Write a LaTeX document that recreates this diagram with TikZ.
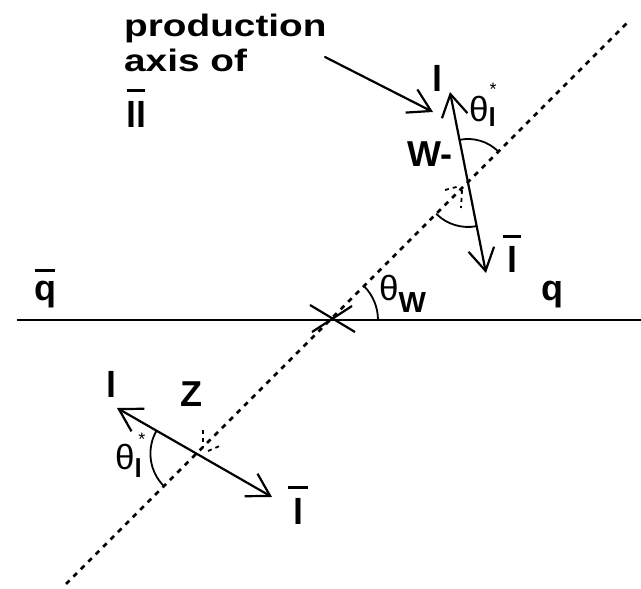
\documentclass[tikz,border=0pt]{standalone}
\usepackage{fontspec}
\setmainfont{Liberation Sans}
\newfontfamily\widefont{Liberation Sans}[FakeStretch=1.25]
\usetikzlibrary{arrows.meta}
\newcommand\barover[3]{\leavevmode\ooalign{\hfil#1\hfil\cr\hfil\rule[#3]{#2}{0.09em}\hfil\cr}}
\tikzset{
  lab/.style={font=\fontsize{36}{36}\selectfont\bfseries, inner sep=0pt},
  widelab/.style={font=\widefont\fontsize{31}{32}\selectfont\bfseries, inner sep=0pt},
  thlab/.style={font=\fontsize{35}{35}\selectfont, inner sep=0pt},
  starlab/.style={font=\fontsize{18}{18}\selectfont, inner sep=0pt},
  arr/.style={line width=2.2pt, line cap=round, {Straight Barb[length=22pt,width=26pt]}-{Straight Barb[length=22pt,width=26pt]}},
  onearr/.style={line width=2.2pt, line cap=round, -{Straight Barb[length=22pt,width=26pt]}},
  axisln/.style={line width=2.6pt, dash pattern=on 5pt off 5.5pt},
  ang/.style={line width=1.8pt},
  smalldash/.style={line width=1.8pt, dash pattern=on 4pt off 4pt},
}
\begin{document}
\begin{tikzpicture}[x=1pt,y=1pt]
\useasboundingbox (0,0) rectangle (641,589);
% beam line
\coordinate (hL) at (17,269);
\coordinate (hR) at (641,269);
\draw[line width=2.2pt] (hL) -- (hR);
% production axis (dashed)
\coordinate (dA) at (66,5);
\coordinate (dB) at (628,567);
\draw[axisln] (dA) -- (dB);
% interaction cross
\coordinate (x1) at (310,284);
\coordinate (x2) at (355,257);
\coordinate (x3) at (312,257);
\coordinate (x4) at (352,283);
\draw[line width=2.2pt] (x1) -- (x2);
\draw[line width=2.2pt] (x3) -- (x4);
% theta_W arc
\coordinate (cW) at (330,269);
\draw[ang] (378,269) arc (0:45:48);
\node[thlab, anchor=base west] (thW) at (379,288) {θ\raisebox{-12pt}{\fontsize{29}{29}\selectfont\bfseries W}};
% W- decay
\coordinate (wT) at (450,497);
\coordinate (wB) at (486,316);
\coordinate (wC) at (468,407);
\draw[arr] (wB) -- (wT);
\draw[ang] (498.4,437.4) arc (45:101:43);
\draw[ang] (436.2,375.2) arc (225:281:45);
\draw[smalldash] (445,399) -- (460,403);
\draw[smalldash] (462,399) -- (461,381);
\node[lab, anchor=base] (upL) at (437,497) {l};
\node[lab, anchor=base] (upLbar) at (512,316) {\barover{l}{0.5em}{0.97em}};
\node[lab, anchor=base] (Wm) at (430,422) {W-};
\node[thlab, anchor=base west] (thU) at (469,467) {θ\raisebox{-5pt}{\fontsize{26}{26}\selectfont\bfseries l}};
\node[starlab] (stU) at (493,500) {*};
% Z decay
\coordinate (zL) at (117,181);
\coordinate (zR) at (272,92);
\coordinate (zC) at (196.4,135.4);
\draw[arr] (zR) -- (zL);
\draw[ang] (156.6,158.4) arc (150:225:46);
\draw[smalldash] (203,159) -- (203,141);
\draw[smalldash] (208,138) -- (222,144);
\node[lab, anchor=base] (lowL) at (112,191) {l};
\node[lab, anchor=base] (Z) at (191,182) {Z};
\node[lab, anchor=base] (lowLbar) at (298,64) {\barover{l}{0.55em}{1.0em}};
\node[thlab, anchor=base west] (thL) at (115,119) {θ\raisebox{-8pt}{\fontsize{26}{26}\selectfont\bfseries l}};
\node[starlab] (stL) at (142,150) {*};
% quarks
\node[lab, anchor=base] (qbar) at (45,288) {\barover{q}{0.53em}{0.8em}};
\node[lab, anchor=base] (q) at (552,288) {q};
% production axis label
\node[widelab, anchor=base west] (p1) at (124,552) {production};
\node[widelab, anchor=base west] (p2) at (124,517) {axis of};
\node[lab, anchor=base west] (p3) at (126,461) {\barover{ll}{0.5em}{1.0em}};
\coordinate (pS) at (325,532);
\coordinate (pE) at (433,477);
\draw[onearr] (pS) -- (pE);
\end{tikzpicture}
\end{document}
